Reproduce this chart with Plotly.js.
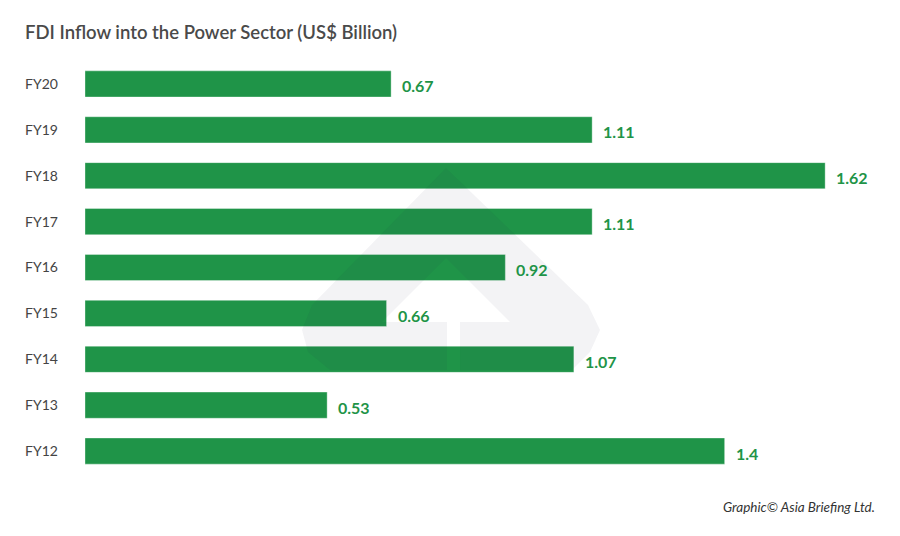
<!DOCTYPE html>
<html>
<head>
<meta charset="utf-8">
<script src="https://cdn.plot.ly/plotly-3.0.1.min.js"></script>
<style>
  html, body { margin: 0; padding: 0; background: #fff; }
  #chart { width: 900px; height: 536px; }
</style>
</head>
<body>
<div id="chart"></div>
<script>
// ----------------------------- Data ------------------------------------------
var years = ["FY12", "FY13", "FY14", "FY15", "FY16", "FY17", "FY18", "FY19", "FY20"];
var inflow = [1.4, 0.53, 1.07, 0.66, 0.92, 1.11, 1.62, 1.11, 0.67];
var labels = ["1.4", "0.53", "1.07", "0.66", "0.92", "1.11", "1.62", "1.11", "0.67"];
// =============================================================================

var green = "#1f9448";
var W = 900, H = 536;
var plotL = 85, plotR = 864, plotT = 61, plotB = 474;

// pixel -> paper, only used for the faint logo behind the bars
function px(x) { return ((x - plotL) / (plotR - plotL)).toFixed(4); }
function py(y) { return ((plotB - y) / (plotB - plotT)).toFixed(4); }
function ring(pts, reverse) {
  var p = reverse ? [pts[0]].concat(pts.slice(1).reverse()) : pts;
  var d = "M " + px(p[0][0]) + "," + py(p[0][1]);
  for (var i = 1; i < p.length; i++) d += " L " + px(p[i][0]) + "," + py(p[i][1]);
  return d + " Z";
}
function logoPath() {
  var outer = [[446,168],[588,305],[600,330],[590,352],[572,370],[330,370],[308,352],[302,330],[312,305]];
  var hole = [[446,258],[510,322],[460,322],[460,370],[447,370],[447,322],[382,322]];
  return ring(outer, false) + " " + ring(hole, true);
}

var data = [{
  type: "bar",
  orientation: "h",
  y: years,
  x: inflow,
  marker: { color: green, line: { color: "rgba(255,255,255,0.35)", width: 1 } },
  hoverinfo: "none",
  showlegend: false
}];

var annotations = [];
for (var i = 0; i < years.length; i++) {
  annotations.push({
    x: inflow[i], y: years[i], xref: "x", yref: "y",
    text: labels[i], showarrow: false,
    xanchor: "left", yanchor: "middle", xshift: 9, yshift: -2,
    font: { family: "Lato", size: 16, color: green, weight: 700 }
  });
}
annotations.push({
  xref: "paper", yref: "paper",
  x: (877 - plotL) / (plotR - plotL), y: (plotB - 507) / (plotB - plotT),
  xanchor: "right", yanchor: "middle", showarrow: false,
  text: "<i>Graphic© Asia Briefing Ltd.</i>",
  font: { family: "Lato", size: 13.5, color: "#333" }
});

var layout = {
  width: W, height: H,
  margin: { l: plotL, r: W - plotR, t: plotT, b: H - plotB, pad: 0 },
  paper_bgcolor: "#fff",
  plot_bgcolor: "#fff",
  font: { family: "Lato", color: "#444" },
  title: {
    text: "FDI Inflow into the Power Sector (US$ Billion)",
    xref: "container", yref: "container",
    x: 25 / W, xanchor: "left",
    y: 1 - 33 / H, yanchor: "middle",
    font: { family: "Lato", size: 18.5, color: "#4a4a4a", weight: 600 }
  },
  bargap: 0.43,
  xaxis: {
    range: [0, 1.705],
    showgrid: false, zeroline: false, showline: false,
    showticklabels: false, fixedrange: true
  },
  yaxis: {
    categoryorder: "array", categoryarray: years,
    showgrid: false, zeroline: false, showline: false,
    ticks: "", ticklabelstandoff: 26,
    tickfont: { family: "Lato", size: 14, color: "#444" },
    fixedrange: true
  },
  shapes: [{
    type: "path", xref: "paper", yref: "paper",
    path: logoPath(),
    fillcolor: "rgba(40,40,70,0.055)",
    line: { width: 0 },
    layer: "above"
  }],
  annotations: annotations
};

Plotly.newPlot("chart", data, layout, { displayModeBar: false, staticPlot: true });
</script>
</body>
</html>
